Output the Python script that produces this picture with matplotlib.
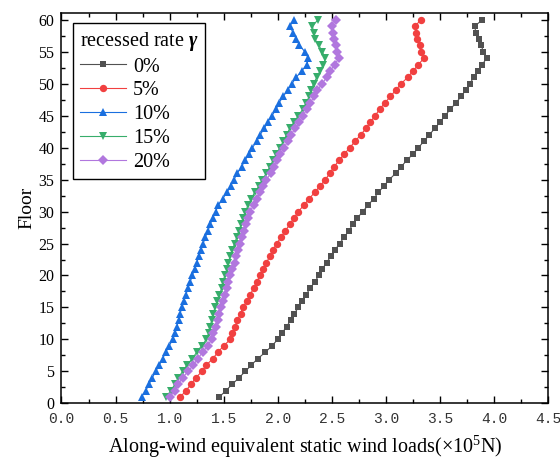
import numpy as np
import matplotlib
matplotlib.use("Agg")
import matplotlib.pyplot as plt
from matplotlib.ticker import MultipleLocator

# wind loads per floor (x10^5 N), floors 1-60
floors = list(range(1, 61))

load_0 = [1.46, 1.52, 1.58, 1.64, 1.70, 1.755, 1.815, 1.885, 1.945, 2.00,
          2.04, 2.08, 2.12, 2.15, 2.19, 2.22, 2.26, 2.30, 2.34, 2.38,
          2.41, 2.45, 2.49, 2.53, 2.57, 2.615, 2.655, 2.695, 2.735, 2.785,
          2.835, 2.885, 2.93, 2.98, 3.03, 3.09, 3.14, 3.19, 3.25, 3.30,
          3.35, 3.40, 3.45, 3.50, 3.545, 3.595, 3.645, 3.695, 3.735, 3.775,
          3.81, 3.85, 3.89, 3.93, 3.90, 3.88, 3.86, 3.83, 3.82, 3.89]

load_5 = [1.10, 1.15, 1.20, 1.24, 1.30, 1.34, 1.40, 1.445, 1.50, 1.56,
          1.58, 1.605, 1.625, 1.655, 1.675, 1.715, 1.745, 1.775, 1.805, 1.835,
          1.865, 1.895, 1.925, 1.955, 1.99, 2.03, 2.07, 2.11, 2.15, 2.19,
          2.24, 2.29, 2.34, 2.39, 2.44, 2.48, 2.52, 2.565, 2.615, 2.665,
          2.715, 2.765, 2.815, 2.855, 2.90, 2.94, 2.99, 3.04, 3.09, 3.14,
          3.20, 3.25, 3.30, 3.35, 3.32, 3.31, 3.29, 3.28, 3.27, 3.32]

load_10 = [0.74, 0.78, 0.81, 0.84, 0.87, 0.905, 0.935, 0.965, 0.995, 1.03,
           1.05, 1.065, 1.085, 1.095, 1.115, 1.13, 1.15, 1.17, 1.19, 1.21,
           1.23, 1.25, 1.27, 1.29, 1.31, 1.33, 1.355, 1.375, 1.40, 1.425,
           1.45, 1.49, 1.53, 1.565, 1.595, 1.625, 1.665, 1.695, 1.735, 1.765,
           1.805, 1.835, 1.875, 1.905, 1.945, 1.985, 2.01, 2.05, 2.09, 2.13,
           2.17, 2.22, 2.27, 2.28, 2.25, 2.20, 2.17, 2.14, 2.11, 2.15]

load_15 = [0.97, 1.01, 1.05, 1.08, 1.12, 1.16, 1.21, 1.25, 1.295, 1.34,
           1.36, 1.37, 1.39, 1.40, 1.42, 1.44, 1.46, 1.48, 1.49, 1.51,
           1.53, 1.54, 1.56, 1.58, 1.60, 1.62, 1.64, 1.66, 1.68, 1.70,
           1.725, 1.755, 1.785, 1.825, 1.855, 1.895, 1.925, 1.955, 1.985, 2.02,
           2.05, 2.08, 2.11, 2.15, 2.19, 2.23, 2.26, 2.29, 2.31, 2.33,
           2.36, 2.39, 2.42, 2.44, 2.41, 2.38, 2.34, 2.33, 2.32, 2.37]

load_20 = [1.00, 1.05, 1.08, 1.12, 1.17, 1.22, 1.26, 1.305, 1.35, 1.39,
           1.40, 1.425, 1.445, 1.46, 1.475, 1.49, 1.51, 1.53, 1.54, 1.56,
           1.58, 1.60, 1.61, 1.63, 1.65, 1.67, 1.69, 1.705, 1.725, 1.745,
           1.775, 1.805, 1.835, 1.865, 1.895, 1.935, 1.965, 1.995, 2.02, 2.06,
           2.09, 2.12, 2.16, 2.20, 2.23, 2.27, 2.30, 2.335, 2.365, 2.41,
           2.45, 2.485, 2.525, 2.565, 2.545, 2.535, 2.52, 2.51, 2.50, 2.535]

labels = ["0%", "5%", "10%", "15%", "20%"]
colors = ["#515151", "#F14040", "#1A6FDF", "#37AD6B", "#B177DE"]
markers = ["s", "o", "^", "v", "D"]
msizes = [4.8, 5.3, 5.8, 5.8, 4.8]

plt.rcParams["font.family"] = "Liberation Serif"
plt.rcParams["mathtext.fontset"] = "custom"
plt.rcParams["mathtext.rm"] = "Liberation Serif"
plt.rcParams["mathtext.it"] = "Liberation Serif:italic"
plt.rcParams["mathtext.bf"] = "Liberation Serif:bold"
plt.rcParams["mathtext.bfit"] = "Liberation Serif:bold:italic"

fig = plt.figure(figsize=(5.6, 4.62), dpi=100)
ax = fig.add_axes([0.1098, 0.127, 0.8693, 0.844])

series = [load_0, load_5, load_10, load_15, load_20]
for vals, lab, c, m, ms in zip(series, labels, colors, markers, msizes):
    ax.plot(vals, floors, color=c, marker=m, markersize=ms, lw=0.8,
            markeredgewidth=0, label=lab)

ax.set_xlim(0, 4.5)
ax.set_ylim(0, 61)
ax.xaxis.set_major_locator(MultipleLocator(0.5))
ax.xaxis.set_minor_locator(MultipleLocator(0.25))
ax.yaxis.set_major_locator(MultipleLocator(5))
ax.yaxis.set_minor_locator(MultipleLocator(2.5))

ax.tick_params(which="both", direction="in", top=True, right=True, width=1)
ax.tick_params(which="major", length=5)
ax.tick_params(which="minor", length=3)
ax.tick_params(axis="y", labelsize=11.5, pad=5)
ax.tick_params(axis="x", pad=6)

ax.set_xticks(np.arange(0, 4.51, 0.5))
ax.set_xticklabels(["%.1f" % v for v in np.arange(0, 4.51, 0.5)],
                   family="Liberation Mono", fontsize=10.5, color="#333333")

for s in ax.spines.values():
    s.set_linewidth(1.1)

ax.set_xlabel(r"Along-wind equivalent static wind loads($\times$10$^5$N)",
              fontsize=14.5, labelpad=6)
ax.set_ylabel("Floor", fontsize=14, labelpad=2)

leg = ax.legend(loc="upper left", bbox_to_anchor=(0.024, 0.975),
                borderaxespad=0, fontsize=14.5, title=r"recessed rate $\mathbfit{\gamma}$",
                title_fontsize=14.5, alignment="left", fancybox=False,
                edgecolor="black", framealpha=1, handlelength=2.3,
                handletextpad=0.35, labelspacing=0.24, borderpad=0.32)
leg.get_frame().set_linewidth(1.0)

fig.savefig("out.png", dpi=100)
